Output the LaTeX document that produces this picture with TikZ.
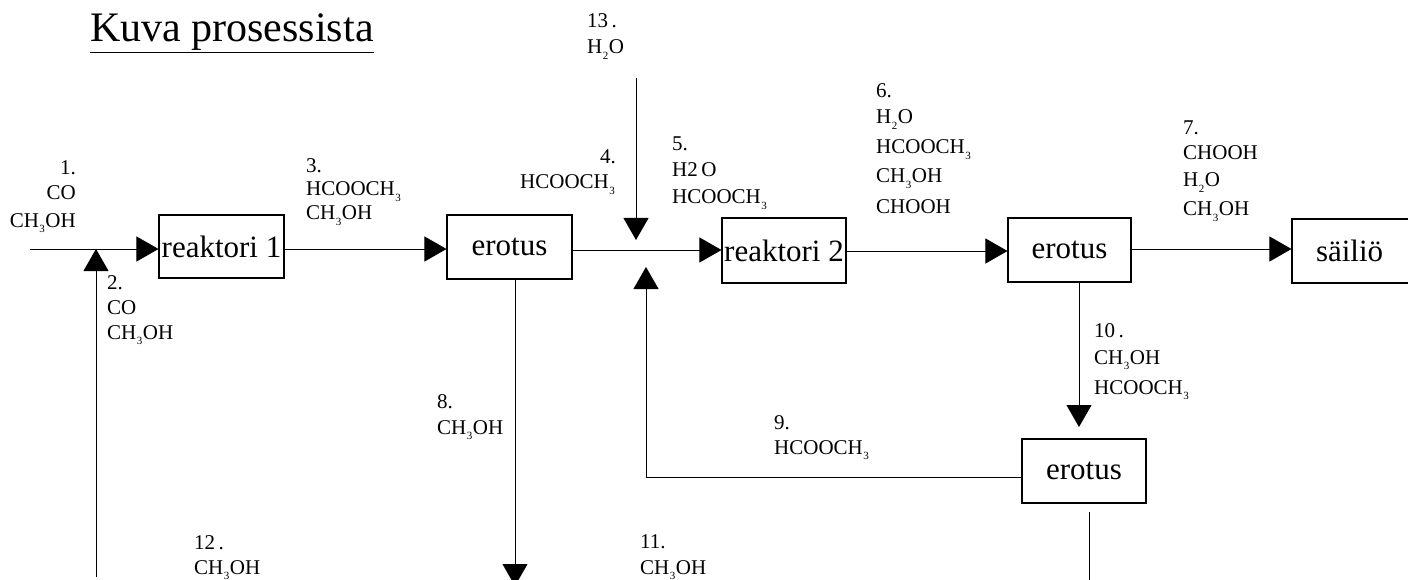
\documentclass[tikz,border=0pt]{standalone}
\usepackage{fontspec}
\setmainfont{Liberation Serif}
\usetikzlibrary{arrows.meta}
\newcommand{\sbs}[1]{\kern0.5pt\raisebox{-0.28em}{\fontsize{11}{11}\selectfont #1}\kern0.5pt}
\begin{document}
\begin{tikzpicture}[x=1pt,y=-1pt,
  lab/.style={font=\fontsize{21}{21}\selectfont, inner sep=0pt, anchor=base west},
  labr/.style={font=\fontsize{21}{21}\selectfont, inner sep=0pt, anchor=base east},
  unit/.style={draw, line width=1.1pt, inner sep=0pt, font=\fontsize{31}{31}\selectfont},
  flow/.style={line width=0.9pt},
  arr/.style={line width=0.9pt, -{Triangle[length=22pt,width=25pt]}}]
\useasboundingbox (0,0) rectangle (1408,580);

% title
\node[inner sep=0pt, anchor=base west, font=\fontsize{42}{42}\selectfont] (title) at (90,42) {\underline{Kuva prosessista}};

% units
\node[unit, minimum width=125pt, minimum height=63pt] (r1) at (221.5,246.5) {reaktori 1};
\node[unit, minimum width=125pt, minimum height=64pt] (e1) at (509.5,247) {erotus};
\node[unit, minimum width=124pt, minimum height=65pt] (r2) at (784,250.5) {reaktori 2};
\node[unit, minimum width=123pt, minimum height=64pt] (e2) at (1069.5,250) {erotus};
\node[unit, minimum width=126pt, minimum height=64pt, text width=126pt, align=left] (s) at (1355,251) {\hspace*{24pt}säiliö};
\node[unit, minimum width=124pt, minimum height=64pt] (e3) at (1084,471) {erotus};

% free ends
\coordinate (in1) at (30,249);
\coordinate (j1) at (96,249);
\coordinate (in2) at (96,577);
\coordinate (in13) at (636,78);
\coordinate (j13) at (636,240);
\coordinate (k9) at (646,477);
\coordinate (j9) at (646,267);
\coordinate (out8) at (515,586);
\coordinate (t10) at (1079,427);
\coordinate (o11a) at (1089,512);
\coordinate (o11b) at (1089,582);

% connectors
\draw[arr] (in1) -- (r1.west |- in1);
\draw[arr] (in2) -- (j1);
\draw[arr] (r1.east |- 0,249) -- (e1.west |- 0,249);
\draw[arr] (e1.east |- 0,250) -- (r2.west |- 0,250);
\draw[arr] (in13) -- (j13);
\draw[arr] (e3.west |- k9) -- (k9) -- (j9);
\draw[arr] (r2.east |- 0,251) -- (e2.west |- 0,251);
\draw[arr] (e2.east |- 0,249) -- (s.west |- 0,249);
\draw[arr] (e1.south -| out8) -- (out8);
\draw[arr] (e2.south -| t10) -- (t10);
\draw[flow] (o11a) -- (o11b);

% labels
\node[labr] (l1a) at (76,175) {1.};
\node[labr] (l1b) at (76,200) {CO};
\node[labr] (l1c) at (76,227) {CH\sbs{3}OH};

\node[lab] (l2a) at (107,289) {2.};
\node[lab] (l2b) at (107,314) {CO};
\node[lab] (l2c) at (107,339) {CH\sbs{3}OH};

\node[lab] (l3a) at (306,173) {3.};
\node[lab] (l3b) at (306,196) {HCOOCH\sbs{3}};
\node[lab] (l3c) at (306,220) {CH\sbs{3}OH};

\node[lab] (l13a) at (587,28) {13\,.};
\node[lab] (l13b) at (587,54) {H\sbs{2}O};

\node[lab] (l4a) at (600,164) {4.};
\node[lab] (l4b) at (520,189) {HCOOCH\sbs{3}};

\node[lab] (l5a) at (672,151) {5.};
\node[lab] (l5b) at (672,177) {H2\,O};
\node[lab] (l5c) at (672,204) {HCOOCH\sbs{3}};

\node[lab] (l6a) at (876,98) {6.};
\node[lab] (l6b) at (876,124) {H\sbs{2}O};
\node[lab] (l6c) at (876,154) {HCOOCH\sbs{3}};
\node[lab] (l6d) at (876,183) {CH\sbs{3}OH};
\node[lab] (l6e) at (876,214) {CHOOH};

\node[lab] (l7a) at (1183,135) {7.};
\node[lab] (l7b) at (1183,160) {CHOOH};
\node[lab] (l7c) at (1183,187) {H\sbs{2}O};
\node[lab] (l7d) at (1183,216) {CH\sbs{3}OH};

\node[lab] (l8a) at (437,408) {8.};
\node[lab] (l8b) at (437,434) {CH\sbs{3}OH};

\node[lab] (l9a) at (774,429) {9.};
\node[lab] (l9b) at (774,454) {HCOOCH\sbs{3}};

\node[lab] (l10a) at (1094,337) {10\,.};
\node[lab] (l10b) at (1094,364) {CH\sbs{3}OH};
\node[lab] (l10c) at (1094,394) {HCOOCH\sbs{3}};

\node[lab] (l11a) at (640,548) {11.};
\node[lab] (l11b) at (640,574) {CH\sbs{3}OH};

\node[lab] (l12a) at (194,549) {12\,.};
\node[lab] (l12b) at (194,574) {CH\sbs{3}OH};
\end{tikzpicture}
\end{document}
